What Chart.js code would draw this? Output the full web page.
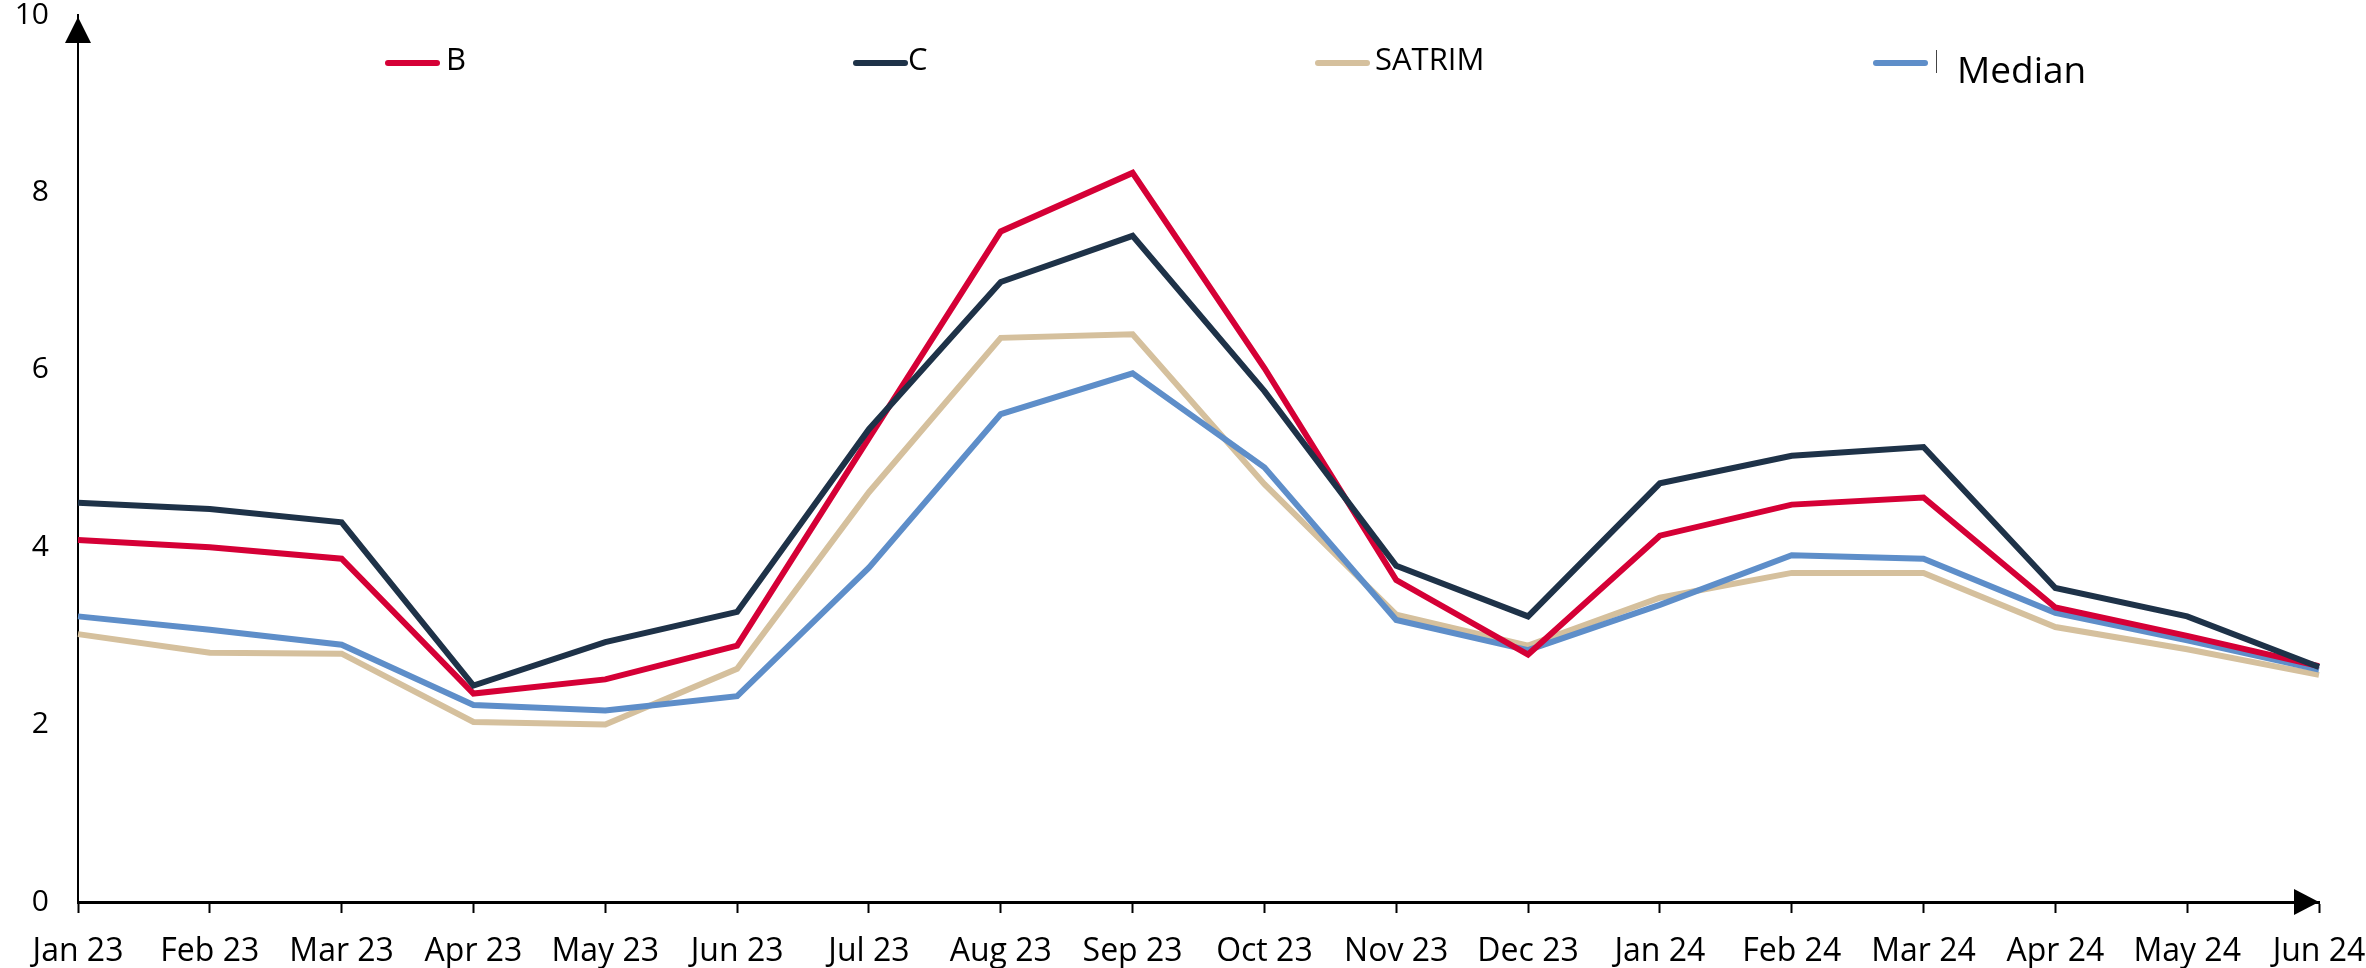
<!DOCTYPE html>
<html lang="en">
<head>
    <meta charset="UTF-8">
    <title>B, C, SATRIM and Median</title>
    <style>
        html, body {
            margin: 0;
            padding: 0;
            background: #ffffff;
        }
        .chart-box {
            width: 2366px;
            height: 968px;
            position: relative;
        }
    </style>
</head>
<body>
<div class="chart-box">
    <canvas id="rateChart"></canvas>
</div>

<script src="https://cdn.jsdelivr.net/npm/chart.js"></script>
<script>
    // values
    const months = ['Jan 23', 'Feb 23', 'Mar 23', 'Apr 23', 'May 23', 'Jun 23', 'Jul 23', 'Aug 23', 'Sep 23',
        'Oct 23', 'Nov 23', 'Dec 23', 'Jan 24', 'Feb 24', 'Mar 24', 'Apr 24', 'May 24', 'Jun 24'];
    const seriesB = [4.08, 4.00, 3.87, 2.35, 2.51, 2.89, 5.23, 7.56, 8.22, 6.02, 3.63, 2.79, 4.13, 4.48, 4.56, 3.32, 3.00, 2.66];
    const seriesC = [4.50, 4.43, 4.28, 2.44, 2.93, 3.27, 5.33, 6.99, 7.51, 5.76, 3.79, 3.22, 4.72, 5.03, 5.13, 3.54, 3.22, 2.65];
    const seriesSatrim = [3.02, 2.81, 2.80, 2.03, 2.00, 2.63, 4.62, 6.36, 6.40, 4.71, 3.24, 2.89, 3.43, 3.71, 3.71, 3.10, 2.85, 2.56];
    const seriesMedian = [3.22, 3.07, 2.90, 2.22, 2.16, 2.32, 3.77, 5.50, 5.96, 4.90, 3.18, 2.84, 3.35, 3.91, 3.87, 3.26, 2.95, 2.62];
    const yTicks = [0, 2, 4, 6, 8, 10];

    const fontFamily = '"Open Sans", "DejaVu Sans", sans-serif';

    // arrow heads on both axes
    const axisArrows = {
        id: 'axisArrows',
        afterDraw(chart) {
            const ctx = chart.ctx;
            const a = chart.chartArea;
            ctx.save();
            ctx.fillStyle = '#000000';
            ctx.beginPath();
            ctx.moveTo(a.left, a.top + 2);
            ctx.lineTo(a.left - 13, a.top + 28);
            ctx.lineTo(a.left + 13, a.top + 28);
            ctx.closePath();
            ctx.fill();
            ctx.beginPath();
            ctx.moveTo(a.right, a.bottom);
            ctx.lineTo(a.right - 25, a.bottom - 13);
            ctx.lineTo(a.right - 25, a.bottom + 13);
            ctx.closePath();
            ctx.fill();
            ctx.restore();
        }
    };

    // legend laid out in one spread row, like the original
    const legendRow = {
        id: 'legendRow',
        afterDraw(chart, args, opts) {
            const ctx = chart.ctx;
            chart.data.datasets.forEach((ds, i) => {
                const spot = opts.spots[i];
                ctx.save();
                ctx.strokeStyle = ds.borderColor;
                ctx.lineWidth = 6;
                ctx.lineCap = 'round';
                ctx.beginPath();
                ctx.moveTo(spot.lineX + 3, opts.lineY);
                ctx.lineTo(spot.lineX + 52, opts.lineY);
                ctx.stroke();
                ctx.fillStyle = '#000000';
                ctx.font = spot.size + 'px ' + fontFamily;
                ctx.textBaseline = 'middle';
                ctx.textAlign = 'left';
                ctx.fillText(ds.label, spot.textX, spot.textY);
                ctx.restore();
            });
            // small stray bar before "Median"
            ctx.save();
            ctx.strokeStyle = '#444444';
            ctx.lineWidth = 1;
            ctx.beginPath();
            ctx.moveTo(1936.5, 50);
            ctx.lineTo(1936.5, 73);
            ctx.stroke();
            ctx.restore();
        }
    };

    const ctx = document.getElementById('rateChart').getContext('2d');
    const chart = new Chart(ctx, {
        type: 'line',
        data: {
            labels: months,
            datasets: [
                { label: 'B', data: seriesB, borderColor: '#d50036', order: 1 },
                { label: 'C', data: seriesC, borderColor: '#1e3248', order: 0 },
                { label: 'SATRIM', data: seriesSatrim, borderColor: '#d5c09d', order: 3 },
                { label: 'Median', data: seriesMedian, borderColor: '#5e8ec9', order: 2 }
            ]
        },
        options: {
            responsive: true,
            maintainAspectRatio: false,
            animation: false,
            layout: { padding: { top: 0, right: 0, bottom: 0, left: 0 } },
            elements: {
                line: { borderWidth: 6, tension: 0, fill: false, borderJoinStyle: 'miter' },
                point: { radius: 0, hoverRadius: 0 }
            },
            plugins: {
                legend: { display: false },
                tooltip: { enabled: false },
                legendRow: {
                    lineY: 63,
                    spots: [
                        { lineX: 385, textX: 446, textY: 61, size: 31 },
                        { lineX: 853, textX: 908, textY: 61, size: 31 },
                        { lineX: 1315, textX: 1375, textY: 61, size: 31 },
                        { lineX: 1873, textX: 1957, textY: 72, size: 37 }
                    ]
                }
            },
            scales: {
                x: {
                    type: 'category',
                    offset: false,
                    grid: {
                        display: true,
                        drawOnChartArea: false,
                        drawTicks: true,
                        tickLength: 11,
                        tickWidth: 2,
                        tickColor: '#000000'
                    },
                    border: { display: true, color: '#000000', width: 3 },
                    ticks: {
                        autoSkip: false,
                        maxRotation: 0,
                        minRotation: 0,
                        padding: 20,
                        color: '#000000',
                        font: { family: fontFamily, size: 32 }
                    },
                    afterFit: (scale) => {
                        scale.height = 66;
                        scale.paddingLeft = 0;
                        scale.paddingRight = 47;
                    }
                },
                y: {
                    min: 0,
                    max: 10,
                    grid: { display: false },
                    border: { display: true, color: '#000000', width: 2 },
                    ticks: {
                        padding: 21,
                        color: '#000000',
                        font: { family: fontFamily, size: 30, lineHeight: 1 }
                    },
                    afterBuildTicks: (scale) => {
                        scale.ticks = yTicks.map(v => ({ value: v }));
                    },
                    afterFit: (scale) => {
                        scale.width = 78;
                        scale.paddingTop = 15;
                        scale.paddingBottom = 0;
                    }
                }
            }
        },
        plugins: [axisArrows, legendRow]
    });
</script>
</body>
</html>
